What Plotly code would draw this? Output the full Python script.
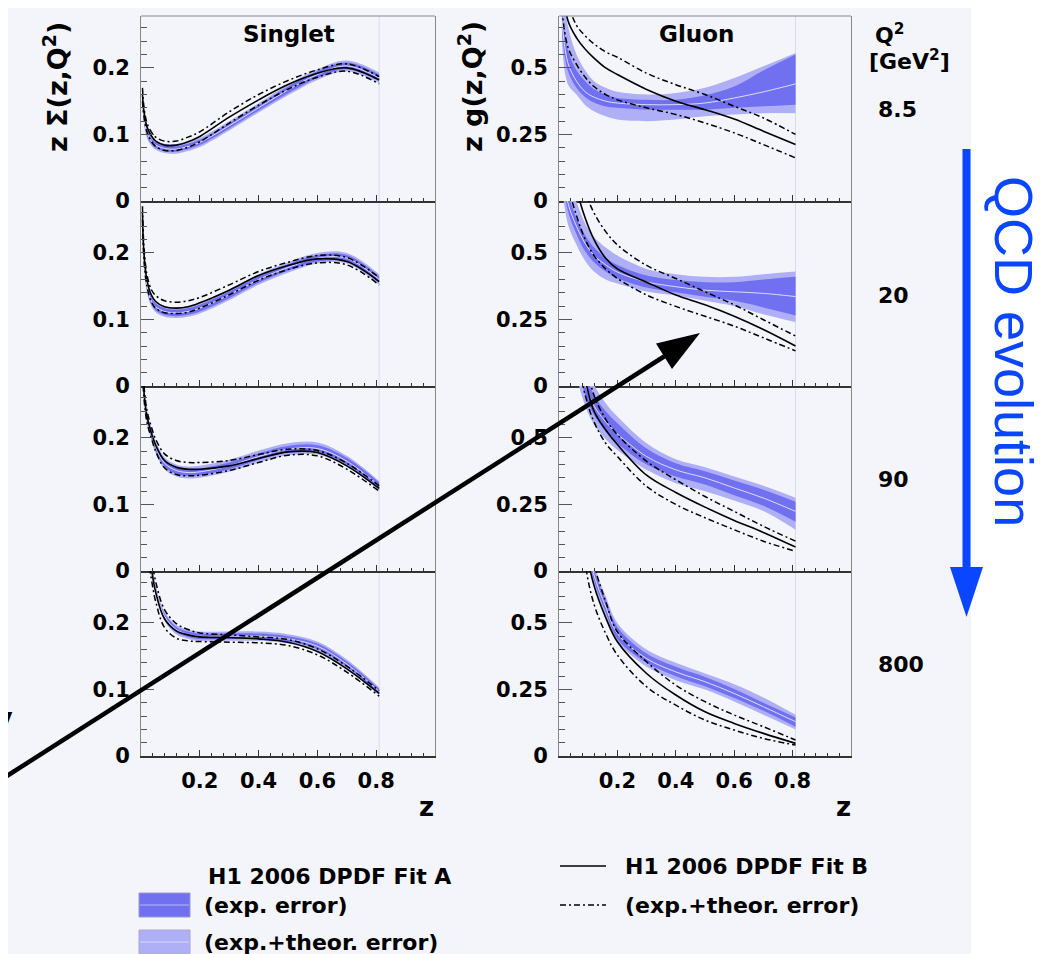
import plotly.graph_objects as go

W, H = 1053, 954

# ---------------- data ----------------
ZS = [0.005, 0.01, 0.02, 0.035, 0.05, 0.08, 0.12, 0.16, 0.2, 0.3, 0.4, 0.5, 0.6, 0.7, 0.81]
ZG = [0.01, 0.03, 0.06, 0.09, 0.12, 0.16, 0.2, 0.3, 0.4, 0.5, 0.6, 0.7, 0.81]

Q2_LABELS = ["8.5", "20", "90", "800"]
X_TICKS = [0.2, 0.4, 0.6, 0.8]
S_YTICKS = [0, 0.1, 0.2]
G_YTICKS = [0, 0.25, 0.5]

# Singlet, Q2 = 8.5
s85_A = [0.15, 0.125, 0.103, 0.09, 0.084, 0.079, 0.078, 0.082, 0.088, 0.113, 0.14, 0.167, 0.19, 0.203, 0.185]
s85_exp = [0.006, 0.005, 0.005, 0.004, 0.004, 0.004, 0.004, 0.004, 0.004, 0.004, 0.004, 0.005, 0.005, 0.005, 0.005]
s85_tot = [0.010, 0.009, 0.008, 0.007, 0.007, 0.007, 0.007, 0.007, 0.007, 0.007, 0.007, 0.008, 0.008, 0.008, 0.008]
s85_B = [0.16, 0.135, 0.112, 0.098, 0.09, 0.084, 0.084, 0.089, 0.097, 0.126, 0.152, 0.175, 0.192, 0.2, 0.182]
s85_Bup = [0.17, 0.142, 0.118, 0.104, 0.096, 0.09, 0.09, 0.096, 0.104, 0.134, 0.16, 0.181, 0.197, 0.206, 0.187]
s85_Blo = [0.15, 0.127, 0.104, 0.09, 0.082, 0.076, 0.076, 0.081, 0.089, 0.117, 0.144, 0.168, 0.186, 0.195, 0.176]

# Singlet, Q2 = 20
s20_A = [0.25, 0.19, 0.15, 0.128, 0.119, 0.112, 0.11, 0.112, 0.117, 0.137, 0.16, 0.178, 0.192, 0.192, 0.16]
s20_exp = [0.006, 0.006, 0.005, 0.005, 0.005, 0.005, 0.005, 0.005, 0.005, 0.005, 0.005, 0.005, 0.005, 0.005, 0.005]
s20_tot = [0.010, 0.010, 0.009, 0.008, 0.008, 0.008, 0.008, 0.008, 0.008, 0.008, 0.008, 0.008, 0.008, 0.008, 0.008]
s20_B = [0.26, 0.2, 0.16, 0.137, 0.127, 0.119, 0.117, 0.119, 0.125, 0.144, 0.166, 0.181, 0.191, 0.187, 0.157]
s20_Bup = [0.27, 0.21, 0.168, 0.145, 0.136, 0.128, 0.126, 0.128, 0.133, 0.152, 0.172, 0.186, 0.196, 0.193, 0.163]
s20_Blo = [0.25, 0.19, 0.15, 0.127, 0.117, 0.11, 0.109, 0.111, 0.117, 0.137, 0.159, 0.175, 0.185, 0.182, 0.152]

# Singlet, Q2 = 90
s90_A = [0.31, 0.27, 0.232, 0.206, 0.186, 0.162, 0.151, 0.148, 0.149, 0.158, 0.172, 0.183, 0.184, 0.165, 0.128]
s90_exp = [0.006, 0.006, 0.006, 0.005, 0.005, 0.005, 0.005, 0.005, 0.005, 0.005, 0.005, 0.005, 0.005, 0.005, 0.005]
s90_tot = [0.010, 0.010, 0.010, 0.009, 0.009, 0.009, 0.009, 0.009, 0.009, 0.009, 0.009, 0.009, 0.009, 0.008, 0.007]
s90_B = [0.31, 0.27, 0.233, 0.208, 0.189, 0.166, 0.156, 0.153, 0.153, 0.158, 0.169, 0.179, 0.178, 0.158, 0.124]
s90_Bup = [0.32, 0.28, 0.242, 0.217, 0.198, 0.176, 0.166, 0.163, 0.163, 0.166, 0.175, 0.183, 0.181, 0.162, 0.128]
s90_Blo = [0.30, 0.26, 0.224, 0.2, 0.18, 0.155, 0.145, 0.143, 0.144, 0.151, 0.163, 0.174, 0.173, 0.153, 0.12]

# Singlet, Q2 = 800
s800_A = [0.45, 0.4, 0.33, 0.285, 0.25, 0.21, 0.19, 0.183, 0.18, 0.18, 0.18, 0.176, 0.165, 0.138, 0.097]
s800_exp = [0.005, 0.005, 0.005, 0.004, 0.004, 0.004, 0.004, 0.004, 0.004, 0.004, 0.004, 0.004, 0.004, 0.004, 0.004]
s800_tot = [0.008, 0.008, 0.008, 0.007, 0.007, 0.007, 0.007, 0.007, 0.007, 0.007, 0.007, 0.007, 0.007, 0.007, 0.006]
s800_B = [0.45, 0.4, 0.33, 0.283, 0.246, 0.206, 0.188, 0.182, 0.179, 0.178, 0.176, 0.171, 0.157, 0.131, 0.094]
s800_Bup = [0.47, 0.42, 0.345, 0.3, 0.262, 0.22, 0.199, 0.19, 0.185, 0.182, 0.179, 0.175, 0.161, 0.135, 0.098]
s800_Blo = [0.43, 0.38, 0.315, 0.267, 0.232, 0.193, 0.177, 0.173, 0.172, 0.171, 0.17, 0.166, 0.152, 0.126, 0.09]

# Gluon, Q2 = 8.5
g85_A = [0.68, 0.52, 0.45, 0.41, 0.39, 0.375, 0.368, 0.362, 0.362, 0.368, 0.387, 0.41, 0.44]
g85_exp_hi = [0.72, 0.57, 0.49, 0.45, 0.42, 0.40, 0.387, 0.38, 0.38, 0.397, 0.43, 0.49, 0.55]
g85_exp_lo = [0.64, 0.49, 0.425, 0.39, 0.37, 0.355, 0.35, 0.343, 0.343, 0.343, 0.35, 0.356, 0.362]
g85_tot_hi = [0.80, 0.66, 0.55, 0.49, 0.45, 0.425, 0.41, 0.40, 0.406, 0.425, 0.462, 0.506, 0.556]
g85_tot_lo = [0.60, 0.44, 0.40, 0.36, 0.337, 0.318, 0.306, 0.30, 0.306, 0.318, 0.325, 0.33, 0.33]
g85_B = [0.85, 0.68, 0.613, 0.57, 0.537, 0.50, 0.475, 0.419, 0.375, 0.343, 0.308, 0.262, 0.212]
g85_Bup = [0.95, 0.75, 0.66, 0.62, 0.59, 0.56, 0.54, 0.48, 0.437, 0.40, 0.356, 0.312, 0.25]
g85_Blo = [0.72, 0.58, 0.513, 0.465, 0.43, 0.40, 0.38, 0.35, 0.325, 0.293, 0.256, 0.212, 0.162]

# Gluon, Q2 = 20
g20_A = [0.85, 0.69, 0.60, 0.535, 0.49, 0.455, 0.428, 0.391, 0.373, 0.36, 0.354, 0.348, 0.336]
g20_exp_hi = [0.9, 0.73, 0.63, 0.565, 0.52, 0.48, 0.455, 0.415, 0.398, 0.39, 0.39, 0.40, 0.41]
g20_exp_lo = [0.8, 0.66, 0.57, 0.505, 0.465, 0.43, 0.405, 0.37, 0.352, 0.335, 0.32, 0.295, 0.265]
g20_tot_hi = [1.0, 0.78, 0.69, 0.61, 0.56, 0.52, 0.49, 0.44, 0.42, 0.41, 0.41, 0.42, 0.43]
g20_tot_lo = [0.75, 0.61, 0.53, 0.47, 0.43, 0.40, 0.385, 0.355, 0.34, 0.32, 0.30, 0.27, 0.24]
g20_B = [1.1, 0.9, 0.74, 0.63, 0.55, 0.48, 0.44, 0.39, 0.342, 0.305, 0.262, 0.212, 0.15]
g20_Bup = [1.3, 1.05, 0.85, 0.73, 0.65, 0.58, 0.53, 0.453, 0.404, 0.354, 0.305, 0.249, 0.188]
g20_Blo = [0.95, 0.76, 0.64, 0.55, 0.49, 0.44, 0.404, 0.342, 0.299, 0.262, 0.225, 0.181, 0.132]

# Gluon, Q2 = 90
g90_A = [1.8, 1.3, 0.85, 0.7, 0.62, 0.56, 0.515, 0.43, 0.38, 0.35, 0.312, 0.274, 0.224]
g90_exp_hi = [1.9, 1.38, 0.9, 0.75, 0.66, 0.6, 0.555, 0.46, 0.405, 0.375, 0.34, 0.305, 0.26]
g90_exp_lo = [1.7, 1.22, 0.8, 0.66, 0.585, 0.525, 0.48, 0.40, 0.355, 0.325, 0.285, 0.245, 0.185]
g90_tot_hi = [2.0, 1.45, 0.95, 0.79, 0.7, 0.63, 0.58, 0.48, 0.42, 0.39, 0.355, 0.32, 0.275]
g90_tot_lo = [1.5, 1.1, 0.74, 0.62, 0.55, 0.495, 0.455, 0.38, 0.33, 0.30, 0.265, 0.225, 0.155]
g90_B = [2.0, 1.4, 0.95, 0.72, 0.6, 0.53, 0.475, 0.36, 0.295, 0.24, 0.19, 0.145, 0.09]
g90_Bup = [2.4, 1.6, 1.05, 0.8, 0.66, 0.57, 0.512, 0.412, 0.343, 0.28, 0.224, 0.168, 0.112]
g90_Blo = [1.6, 1.1, 0.82, 0.66, 0.56, 0.48, 0.43, 0.318, 0.25, 0.2, 0.155, 0.112, 0.074]

# Gluon, Q2 = 800
g800_A = [3.1, 2.1, 1.25, 0.85, 0.68, 0.56, 0.46, 0.366, 0.316, 0.279, 0.235, 0.185, 0.129]
g800_exp_hi = [3.2, 2.15, 1.27, 0.88, 0.7, 0.585, 0.485, 0.385, 0.335, 0.297, 0.252, 0.2, 0.145]
g800_exp_lo = [3.0, 2.05, 1.22, 0.82, 0.66, 0.54, 0.44, 0.35, 0.3, 0.262, 0.218, 0.17, 0.11]
g800_tot_hi = [3.3, 2.2, 1.3, 0.9, 0.72, 0.6, 0.5, 0.4, 0.35, 0.31, 0.27, 0.22, 0.155]
g800_tot_lo = [2.9, 2.0, 1.18, 0.8, 0.64, 0.52, 0.43, 0.335, 0.285, 0.25, 0.205, 0.155, 0.1]
g800_B = [3.0, 2.0, 1.2, 0.8, 0.64, 0.52, 0.429, 0.31, 0.229, 0.166, 0.1225, 0.085, 0.0475]
g800_Bup = [3.3, 2.2, 1.3, 0.9, 0.72, 0.58, 0.466, 0.354, 0.266, 0.204, 0.154, 0.11, 0.06]
g800_Blo = [2.7, 1.8, 1.05, 0.72, 0.57, 0.46, 0.379, 0.26, 0.191, 0.135, 0.0975, 0.066, 0.041]

# ---------------- styling ----------------
DARK = "rgb(112,112,240)"
LIGHT = "rgb(174,175,246)"
BG = "#f3f5fa"
BLUE = "#0a46ff"
DASHDOT = "6px,3px,2px,3px"
BOLD = dict(family="DejaVu Sans, Verdana, sans-serif", color="black", weight="bold")


def px(x):
    return x / W


def py(y):
    return 1 - y / H


def sub(a, b):
    return [u - v for u, v in zip(a, b)]


def add(a, b):
    return [u + v for u, v in zip(a, b)]


singlet_rows = [
    (s85_A, s85_exp, s85_tot, s85_B, s85_Bup, s85_Blo),
    (s20_A, s20_exp, s20_tot, s20_B, s20_Bup, s20_Blo),
    (s90_A, s90_exp, s90_tot, s90_B, s90_Bup, s90_Blo),
    (s800_A, s800_exp, s800_tot, s800_B, s800_Bup, s800_Blo),
]
gluon_rows = [
    (g85_A, g85_exp_lo, g85_exp_hi, g85_tot_lo, g85_tot_hi, g85_B, g85_Bup, g85_Blo),
    (g20_A, g20_exp_lo, g20_exp_hi, g20_tot_lo, g20_tot_hi, g20_B, g20_Bup, g20_Blo),
    (g90_A, g90_exp_lo, g90_exp_hi, g90_tot_lo, g90_tot_hi, g90_B, g90_Bup, g90_Blo),
    (g800_A, g800_exp_lo, g800_exp_hi, g800_tot_lo, g800_tot_hi, g800_B, g800_Bup, g800_Blo),
]

fig = go.Figure()


def add_panel(idx, z, A, elo, ehi, tlo, thi, B, Bup, Blo):
    xa = "x" if idx == 1 else f"x{idx}"
    ya = "y" if idx == 1 else f"y{idx}"
    common = dict(x=z, xaxis=xa, yaxis=ya, mode="lines", hoverinfo="skip", showlegend=False)
    sp = dict(shape="spline", smoothing=1.0)
    fig.add_trace(go.Scatter(y=thi, line=dict(width=0, color=LIGHT, **sp), **common))
    fig.add_trace(go.Scatter(y=tlo, line=dict(width=0, color=LIGHT, **sp), fill="tonexty", fillcolor=LIGHT, **common))
    fig.add_trace(go.Scatter(y=ehi, line=dict(width=0, color=DARK, **sp), **common))
    fig.add_trace(go.Scatter(y=elo, line=dict(width=0, color=DARK, **sp), fill="tonexty", fillcolor=DARK, **common))
    fig.add_trace(go.Scatter(y=A, line=dict(width=1, color="rgba(255,255,255,0.75)", **sp), **common))
    fig.add_trace(go.Scatter(y=Bup, line=dict(width=1.5, color="black", dash=DASHDOT, **sp), **common))
    fig.add_trace(go.Scatter(y=Blo, line=dict(width=1.5, color="black", dash=DASHDOT, **sp), **common))
    fig.add_trace(go.Scatter(y=B, line=dict(width=1.6, color="black", **sp), **common))


ROW_TOP = [8, 193, 378, 563]
ROW_BOT = [193, 378, 563, 748]
COL_X = [(133, 427), (551, 843)]
YMAX = [0.278, 0.695]

layout = dict(
    width=W, height=H, margin=dict(l=0, r=0, t=0, b=0),
    paper_bgcolor="white", plot_bgcolor="rgba(0,0,0,0)",
    showlegend=False,
)

shapes = [
    dict(type="rect", xref="paper", yref="paper", x0=0, x1=px(963), y0=0, y1=1,
         fillcolor=BG, line=dict(width=0), layer="below"),
]

for r in range(4):
    for c in range(2):
        idx = r * 2 + c + 1
        if c == 0:
            A, ex, tt, B, Bup, Blo = singlet_rows[r]
            add_panel(idx, ZS, A, sub(A, ex), add(A, ex), sub(A, tt), add(A, tt), B, Bup, Blo)
            yt, ymax, mdt = S_YTICKS, YMAX[0], 0.02
            zend = ZS[-1]
        else:
            A, elo, ehi, tlo, thi, B, Bup, Blo = gluon_rows[r]
            add_panel(idx, ZG, A, elo, ehi, tlo, thi, B, Bup, Blo)
            yt, ymax, mdt = G_YTICKS, YMAX[1], 0.05
            zend = ZG[-1]
        xk = "xaxis" if idx == 1 else f"xaxis{idx}"
        yk = "yaxis" if idx == 1 else f"yaxis{idx}"
        layout[xk] = dict(
            domain=[px(COL_X[c][0]), px(COL_X[c][1])], range=[0, 1.0],
            anchor="y" if idx == 1 else f"y{idx}",
            tickmode="array", tickvals=X_TICKS, ticks="inside", ticklen=6, tickwidth=1, tickcolor="#333",
            minor=dict(ticks="inside", ticklen=3, dtick=0.04, tick0=0, tickcolor="#333"),
            showticklabels=(r == 3), tickfont=dict(size=21, **BOLD), ticklabelstandoff=5,
            showline=True, linecolor="#333", linewidth=1.5, mirror=False,
            showgrid=False, zeroline=False, automargin=False, fixedrange=True,
        )
        layout[yk] = dict(
            domain=[py(ROW_BOT[r]), py(ROW_TOP[r])], range=[0, ymax],
            anchor="x" if idx == 1 else f"x{idx}",
            tickmode="array", tickvals=yt, ticks="inside", ticklen=13, tickwidth=1, tickcolor="#555",
            minor=dict(ticks="inside", ticklen=6, dtick=mdt, tick0=0, tickcolor="#555"),
            tickfont=dict(size=21, **BOLD), ticklabelstandoff=6,
            showline=True, linecolor="#888", linewidth=1, mirror=True,
            showgrid=False, zeroline=False, automargin=False, fixedrange=True,
        )
        shapes.append(dict(type="line", xref="x" if idx == 1 else f"x{idx}",
                           yref=("y" if idx == 1 else f"y{idx}") + " domain",
                           x0=zend, x1=zend, y0=0, y1=1, line=dict(color="#d9dbee", width=1), layer="below"))

# top frame line of first row
for c in range(2):
    shapes.append(dict(type="line", xref="paper", yref="paper", x0=px(COL_X[c][0]), x1=px(COL_X[c][1]),
                       y0=py(ROW_TOP[0]), y1=py(ROW_TOP[0]), line=dict(color="#888", width=1)))

# QCD evolution arrow
shapes.append(dict(type="line", xref="paper", yref="paper", x0=px(958.5), x1=px(958.5), y0=py(141), y1=py(562),
                   line=dict(color=BLUE, width=8)))
shapes.append(dict(type="path", xref="paper", yref="paper",
                   path=f"M {px(942)},{py(559)} L {px(975)},{py(559)} L {px(958.5)},{py(609)} Z",
                   fillcolor=BLUE, line=dict(width=0)))

# black arrow
shapes.append(dict(type="line", xref="paper", yref="paper", x0=px(-20), y0=py(780), x1=px(660), y1=py(346),
                   line=dict(color="black", width=4.5)))
shapes.append(dict(type="path", xref="paper", yref="paper",
                   path=f"M {px(692)},{py(325)} L {px(664)},{py(361)} L {px(648)},{py(335.5)} Z",
                   fillcolor="black", line=dict(width=0)))

# legend graphics
shapes += [
    dict(type="rect", xref="paper", yref="paper", x0=px(131), x1=px(182), y0=py(909), y1=py(885),
         fillcolor=DARK, line=dict(color="#9a9ad0", width=1)),
    dict(type="line", xref="paper", yref="paper", x0=px(132), x1=px(181), y0=py(897), y1=py(897),
         line=dict(color="rgba(255,255,255,0.5)", width=1)),
    dict(type="rect", xref="paper", yref="paper", x0=px(131), x1=px(182), y0=py(946), y1=py(922),
         fillcolor=LIGHT, line=dict(color="#a8a8d0", width=1)),
    dict(type="line", xref="paper", yref="paper", x0=px(132), x1=px(181), y0=py(934), y1=py(934),
         line=dict(color="rgba(255,255,255,0.5)", width=1)),
    dict(type="line", xref="paper", yref="paper", x0=px(552), x1=px(598), y0=py(858), y1=py(858),
         line=dict(color="black", width=1.6)),
    dict(type="line", xref="paper", yref="paper", x0=px(552), x1=px(598), y0=py(897), y1=py(897),
         line=dict(color="black", width=1.5, dash=DASHDOT)),
]

ann = []


def text(x, y, s, size, xanchor="center", yanchor="middle", angle=0, font=None):
    f = dict(size=size, **BOLD) if font is None else font
    ann.append(dict(x=px(x), y=py(y), xref="paper", yref="paper", text=s, showarrow=False,
                    xanchor=xanchor, yanchor=yanchor, textangle=angle, font=f, borderpad=0))


text(281, 26, "Singlet", 23)
text(688, 26, "Gluon", 23)
text(48, 79, "z Σ(z,Q<sup>2</sup>)", 27, angle=-90)
text(463, 79, "z g(z,Q<sup>2</sup>)", 27, angle=-90)
text(866, 26, "Q<sup>2</sup>", 22, xanchor="left")
text(860, 52, "[GeV<sup>2</sup>]", 22, xanchor="left")
for lab, yc in zip(Q2_LABELS, [102, 287, 471, 656]):
    text(869, yc, lab, 22, xanchor="left")
text(427, 799, "z", 26, xanchor="right")
text(844, 799, "z", 26, xanchor="right")

# legend text
text(199, 868, "H1 2006 DPDF Fit A", 22, xanchor="left")
text(195, 897, "(exp. error)", 22, xanchor="left")
text(195, 934, "(exp.+theor. error)", 22, xanchor="left")
text(616, 858, "H1 2006 DPDF Fit B", 22, xanchor="left")
text(616, 897, "(exp.+theor. error)", 22, xanchor="left")

# QCD evolution label
text(1006, 343, "QCD evolution", 54, angle=90,
     font=dict(family="Liberation Sans, Arial, sans-serif", size=54, color=BLUE))

# clipped glyph at left edge
text(6, 712, "v", 38, xanchor="right")

layout["shapes"] = shapes
layout["annotations"] = ann
fig.update_layout(**layout)
fig.write_html("out.html")
